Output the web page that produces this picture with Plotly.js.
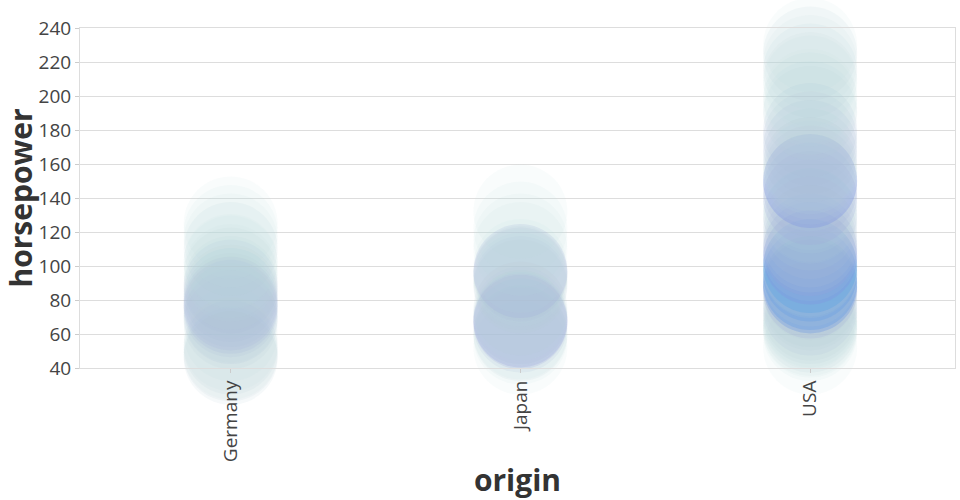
<!DOCTYPE html>
<html>
<head>
<meta charset="utf-8">
<script src="https://cdn.plot.ly/plotly-3.0.1.min.js"></script>
<style>html,body{margin:0;padding:0;background:#fff}#chart{width:960px;height:500px}</style>
</head>
<body>
<div id="chart"></div>
<script>
// Aggregated data: horsepower values and number of cars per origin
const origins = ["Germany", "Japan", "USA"];

const germanyHp    = [46, 48, 49, 52, 54, 60, 67, 70, 71, 74, 76, 78, 80, 83, 85, 88, 90, 95, 97, 102, 103, 110, 115, 120, 125];
const germanyCount = [2, 2, 1, 2, 1, 1, 2, 3, 1, 3, 4, 4, 3, 3, 2, 3, 2, 1, 1, 1, 1, 2, 1, 1, 1];

const japanHp    = [52, 58, 60, 61, 65, 67, 68, 69, 70, 72, 75, 88, 90, 92, 94, 95, 96, 97, 100, 110, 115, 122, 132];
const japanCount = [1, 1, 2, 1, 3, 5, 6, 1, 3, 1, 2, 2, 2, 1, 1, 3, 2, 5, 1, 1, 1, 1, 1];

const usaHp    = [52, 60, 62, 63, 65, 67, 68, 70, 72, 75, 78, 80, 84, 85, 86, 88, 90, 92, 95, 97, 98, 100, 105, 107, 110, 112, 115, 120, 125, 129, 130, 135, 137, 140, 145, 148, 150, 152, 155, 158, 160, 165, 170, 175, 180, 190, 193, 198, 200, 208, 210, 215, 220, 225, 230];
const usaCount = [1, 1, 1, 1, 2, 1, 1, 2, 2, 3, 2, 2, 2, 5, 2, 10, 11, 2, 11, 2, 1, 12, 9, 1, 6, 2, 3, 3, 2, 1, 3, 1, 1, 5, 4, 1, 9, 1, 2, 1, 2, 3, 3, 3, 3, 2, 1, 1, 1, 1, 1, 2, 1, 2, 1];

const groups = [
  {name: origins[0], hp: germanyHp, n: germanyCount},
  {name: origins[1], hp: japanHp, n: japanCount},
  {name: origins[2], hp: usaHp, n: usaCount}
];

const traces = groups.map(g => ({
  type: "scatter",
  mode: "markers",
  x: g.hp.map(() => g.name),
  y: g.hp,
  cliponaxis: false,
  hoverinfo: "x+y",
  showlegend: false,
  marker: {
    size: 94,
    color: g.n,
    cmin: 1,
    cmax: 12,
    colorscale: [[0, "#b8dcd8"], [0.25, "#a8b8d8"], [0.6, "#8c90e0"], [1, "#68a8e2"]],
    opacity: g.n.map(c => Math.min(0.05 + 0.035 * c, 0.5)),
    line: {width: 0}
  }
}));

const layout = {
  width: 960,
  height: 500,
  margin: {l: 80, r: 5, t: 28, b: 132},
  paper_bgcolor: "#fff",
  plot_bgcolor: "#fff",
  font: {family: "Open Sans, sans-serif", color: "#444"},
  showlegend: false,
  xaxis: {
    type: "category",
    categoryorder: "array",
    categoryarray: origins,
    range: [-0.52, 2.5],
    tickangle: -90,
    tickfont: {size: 19, color: "#444"},
    ticks: "outside",
    ticklen: 4,
    tickcolor: "#ccc",
    showgrid: false,
    showline: true,
    mirror: true,
    linecolor: "#ddd",
    zeroline: false,
    title: {text: "origin", font: {size: 30, weight: 700, color: "#333"}, standoff: 14}
  },
  yaxis: {
    range: [40, 240],
    tickvals: [40, 60, 80, 100, 120, 140, 160, 180, 200, 220, 240],
    tickfont: {size: 19, color: "#444"},
    ticks: "outside",
    ticklen: 4,
    tickcolor: "#ccc",
    gridcolor: "#ddd",
    showline: true,
    mirror: true,
    linecolor: "#ddd",
    zeroline: false,
    title: {text: "horsepower", font: {size: 30, weight: 700, color: "#333"}, standoff: 8}
  }
};

Plotly.newPlot("chart", traces, layout, {displayModeBar: false, staticPlot: true});
</script>
</body>
</html>
